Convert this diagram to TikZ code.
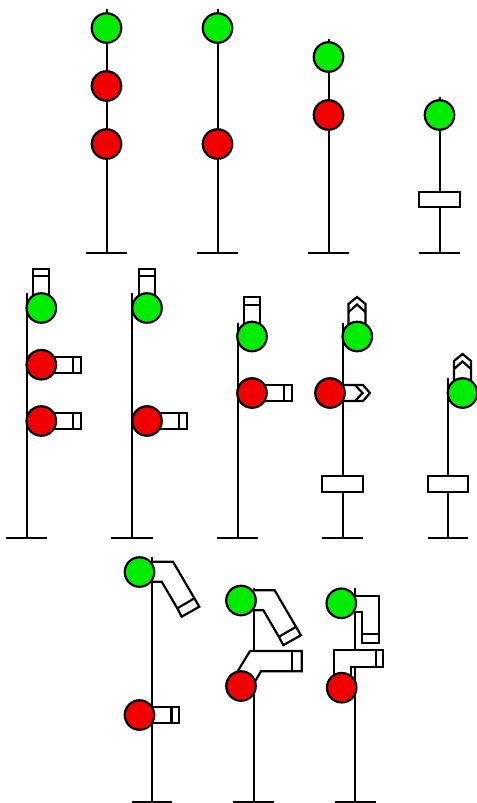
\documentclass[tikz,border=0pt]{standalone}
\tikzset{
  lamp/.style={circle,draw=black,line width=2.2bp,minimum size=29.5bp,inner sep=0pt,outer sep=0pt},
  go/.style={lamp,fill=green0},
  halt/.style={lamp,fill=red0},
  pole/.style={draw=black,line width=2.2bp},
  hood/.style={draw=black,fill=white,line width=2.2bp,line join=miter},
  hoodline/.style={draw=black,line width=2.2bp},
}
\definecolor{green0}{RGB}{0,236,0}
\definecolor{red0}{RGB}{240,0,0}
% pole: x, top y, left end of base, right end of base, id
\newcommand{\mast}[6]{%
  \coordinate (#6t) at (#1,#2);
  \coordinate (#6b) at (#1,#3);
  \coordinate (#6l) at (#4,#3);
  \coordinate (#6r) at (#5,#3);
  \draw[pole] (#6t) -- (#6b);
  \draw[pole] (#6l) -- (#6r);
}
% plain rectangular hood pointing right: x0, x divider, x1, ytop, ybot
\newcommand{\hoodright}[5]{%
  \draw[hood] (#1,#4) -- (#3,#4) -- (#3,#5) -- (#1,#5);
  \draw[hoodline] (#2,#4) -- (#2,#5);
}
% plain rectangular hood pointing up: x0, x1, ytop, ydivider, ybottom
\newcommand{\hoodup}[5]{%
  \draw[hood] (#1,#5) -- (#1,#3) -- (#2,#3) -- (#2,#5);
  \draw[hoodline] (#1-1,#4) -- (#2+1,#4);
}
% chevron hood pointing up: centre x, apex y, bottom y
\newcommand{\chevup}[3]{%
  \draw[hood] (#1-8.5,#3) -- (#1-8.5,#2+7) -- (#1,#2) -- (#1+8.5,#2+7) -- (#1+8.5,#3);
  \draw[hoodline] (#1-8.5,#2+15) -- (#1,#2+7.5) -- (#1+8.5,#2+15);
}
% slanted hood: x shift, y shift
\newcommand{\slanthood}[2]{%
  \begin{scope}[shift={(#1,#2)}]
    \draw[hood] (152,561.7) -- (173,561.7) -- (199.3,606.7) -- (181.7,616.7) -- (177.3,608.3) -- (161.7,581.7) -- (152,581.7);
    \draw[hoodline] (177.3,608.3) -- (194.5,598.3);
  \end{scope}
}
\begin{document}
\begin{tikzpicture}[x=1bp,y=-1bp]
\useasboundingbox (0,0) rectangle (477,803);
% row 1
\mast{106.7}{9}{253}{86}{127}{a}
\node[go] (a1) at (106.5,28) {};
\node[halt] (a2) at (106.5,86) {};
\node[halt] (a3) at (106.5,144) {};
\mast{217.7}{9}{253}{197}{238}{b}
\node[go] (b1) at (217.5,28) {};
\node[halt] (b2) at (217.5,144) {};
\mast{328.7}{39}{253}{308}{349}{c}
\node[go] (c1) at (328.5,57) {};
\node[halt] (c2) at (328.5,115) {};
\mast{439.7}{97}{253}{419}{460}{d}
\node[go] (d1) at (439.5,115) {};
\draw[hood] (419,192) rectangle (460,207);
% row 2
\mast{26.7}{293}{538}{6}{47}{e}
\hoodup{33}{49}{269}{276}{296}
\hoodright{50}{73}{81}{357}{373}
\hoodright{50}{73}{81}{413}{429}
\node[go] (e1) at (41.3,308) {};
\node[halt] (e2) at (41.3,364.7) {};
\node[halt] (e3) at (41.3,421) {};
\mast{132}{293}{538}{111}{153}{f}
\hoodup{139}{155}{269}{276}{296}
\hoodright{155}{179}{187}{413}{429}
\node[go] (f1) at (147,308) {};
\node[halt] (f2) at (147,421) {};
\mast{237.7}{323}{538}{217}{258}{g}
\hoodup{244}{260}{297}{305}{325}
\hoodright{260}{284}{292}{385}{401}
\node[go] (g1) at (252,336.5) {};
\node[halt] (g2) at (252,393) {};
\mast{342.7}{323}{538}{322}{363}{h}
\chevup{357}{297}{325}
\draw[hood] (340,385) -- (363,385) -- (370,393) -- (363,401) -- (340,401);
\draw[hoodline] (355,385) -- (362.5,393) -- (355,401);
\draw[hood] (322,476) rectangle (363,492);
\node[go] (h1) at (357.3,336.5) {};
\node[halt] (h2) at (330,393) {};
\mast{448}{378}{538}{428}{468}{i}
\chevup{462.5}{354}{382}
\draw[hood] (428,476) rectangle (468,492);
\node[go] (i1) at (462.5,393) {};
% row 3
\mast{151.7}{557}{802}{132}{172}{j}
\slanthood{0}{0}
\hoodright{150}{171.5}{179}{707}{723}
\node[go] (j1) at (139.5,572) {};
\node[halt] (j2) at (139.5,715) {};
\mast{253.7}{588}{802}{233}{274}{k}
\slanthood{101.6}{28.5}
\draw[hood] (238,670.7) -- (250,651) -- (301.7,651) -- (301.7,671.3) -- (261,671.3) -- (255.3,681);
\draw[hoodline] (292,651) -- (292,671.3);
\node[go] (k1) at (241,600.5) {};
\node[halt] (k2) at (241,686) {};
\mast{355.3}{588}{802}{335}{376}{l}
\draw[hood] (355,596) -- (378.7,596) -- (378.7,642.7) -- (362.3,642.7) -- (362.3,611.7) -- (355,611.7);
\draw[hoodline] (362.3,634.3) -- (378.7,634.3);
\draw[hood] (334.3,675) -- (334.3,650) -- (383.3,650) -- (383.3,666.7) -- (350.7,666.7) -- (350.7,676);
\draw[hoodline] (375.7,650) -- (375.7,666.7);
\node[go] (l1) at (341.3,603.3) {};
\node[halt] (l2) at (341.7,687.7) {};
\end{tikzpicture}
\end{document}
